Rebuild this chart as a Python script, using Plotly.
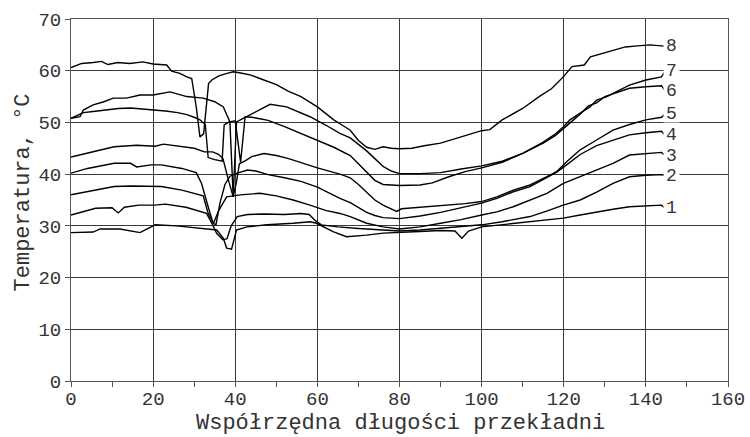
import plotly.graph_objects as go

# ---- data ----
X1 = [0, 5.4, 7.1, 11.9, 16.8, 20.5, 25.7, 33, 35.5, 37.1, 37.9, 39.1, 40.3, 42.8, 47.7, 54.1, 58.2, 59.8, 63.8, 67.1, 72, 76, 80, 85, 90, 93.5, 95.2, 96.8, 100, 105, 110, 115, 119.9, 124, 128, 132, 136, 140, 143.8]
Y1 = [28.7, 28.8, 29.4, 29.4, 28.7, 30.2, 30, 29.5, 29.2, 27.6, 25.7, 25.5, 29.2, 29.8, 30.2, 30.5, 30.8, 30.5, 28.9, 27.9, 28.2, 28.6, 28.7, 28.9, 29.1, 29, 27.6, 29, 29.8, 30.2, 30.6, 31, 31.5, 32.1, 32.7, 33.2, 33.7, 33.9, 34]

X2 = [0, 3, 6, 10, 11.5, 13, 16.5, 20.3, 23, 28, 31, 33, 34.3, 35.5, 37, 38, 39, 40.5, 43, 47, 52, 56, 58, 59.5, 61, 65, 70, 75, 80, 85, 90, 95, 100, 105, 111.8, 116, 119.9, 124, 128, 132, 136, 140, 143.8]
Y2 = [32.1, 32.8, 33.4, 33.5, 32.5, 33.6, 34, 34, 34.2, 33.6, 32.9, 32.4, 30.5, 28.5, 27.3, 27.5, 30, 31.8, 32.2, 32.3, 32.2, 32.4, 32.2, 31, 30.2, 29.8, 29.5, 29.2, 29, 29.2, 29.5, 29.8, 30.2, 30.8, 31.8, 32.9, 34, 35, 36.5, 38.2, 39.5, 39.8, 39.9]

X3 = [0, 6.5, 10.5, 14.5, 18.5, 22, 27, 31, 32.2, 33.4, 34.7, 36, 37.9, 41.2, 46, 50, 54.1, 58.2, 62, 65.5, 68, 72, 76, 80, 85, 90, 95, 100, 103.7, 107.7, 111.8, 115.9, 119.9, 124, 128, 132, 136, 140, 143.8]
Y3 = [36, 36.9, 37.6, 37.7, 37.6, 37.6, 36.9, 36, 35.8, 32.4, 30.5, 33, 35.6, 36, 36.3, 35.8, 35, 34, 33, 32.4, 31.8, 30.5, 29.8, 29.4, 29.8, 30.5, 31.2, 32.1, 32.7, 33.7, 35, 36.3, 38.2, 39.5, 40.8, 42.1, 43.7, 44, 44.2]

X4 = [0, 4, 10.5, 14.5, 16, 19.5, 22, 27, 30.5, 31.8, 33.4, 34.6, 35.3, 36.3, 37.5, 38.7, 40.5, 43, 45, 48, 52, 56, 60, 65.5, 68, 70, 72, 74, 76, 80, 85, 90, 95, 100, 103.7, 107.7, 111.8, 115.9, 118.3, 120.7, 124, 128, 132, 136, 140, 143.8]
Y4 = [40.2, 41.1, 42.1, 42.1, 41.4, 41.8, 41.8, 41.1, 40.3, 38.2, 33.7, 30.5, 30.2, 34.5, 38, 39.6, 40.2, 40.8, 40.6, 39.9, 39.3, 38.6, 37.5, 35.3, 34.5, 33.5, 32.6, 32, 31.6, 31.4, 31.9, 32.6, 33.5, 34.4, 35.3, 36.6, 37.6, 39.3, 40.4, 41.8, 43.8, 45.5, 46.6, 47.6, 48, 48.3]

X5 = [0, 5, 10.5, 16, 20.5, 22.5, 27, 30, 32.5, 34.5, 36, 37, 38.3, 39.5, 40.3, 41, 42.5, 44, 47, 50, 53, 56, 60, 65.5, 68, 70, 72, 74, 76, 78, 79.3, 80.5, 84, 88, 92, 96, 100, 103.7, 107.7, 111.8, 115.9, 118.3, 120.7, 124, 128, 132, 136, 140, 143.8]
Y5 = [43.3, 44.3, 45.3, 45.6, 45.4, 45.8, 45.3, 45, 44.3, 44.3, 43.8, 43, 39, 35.6, 38.5, 42, 42.6, 43.4, 44, 43.6, 43, 42.2, 41.2, 40, 39.3, 38, 36.5, 35, 34, 33.2, 32.8, 33.3, 33.5, 33.8, 34, 34.3, 34.7, 35.6, 36.9, 37.9, 39.5, 40.5, 42.4, 44.7, 46.6, 48.5, 49.6, 50.5, 51]

X6 = [0, 3, 5.4, 8, 11.5, 14.5, 18, 20.5, 23, 26, 28.2, 30, 31.4, 32.7, 33.4, 35, 36.8, 37.3, 38.5, 40, 41.3, 42.4, 44, 46, 48, 52, 55.8, 59.8, 64, 68, 70, 72, 74, 76, 80, 85, 88, 92, 96, 100, 105, 110, 115, 118, 120, 122, 124, 126, 128, 130, 133, 136, 140, 143.8]
Y6 = [50.8, 51.9, 52.1, 52.4, 52.7, 52.8, 52.6, 52.4, 52.2, 51.9, 51.5, 51, 50.5, 49.6, 43.2, 42.8, 42.5, 49.5, 50.1, 50.3, 42.3, 51.1, 51, 50.7, 50.4, 49.2, 47.9, 46.6, 45.2, 43.6, 42, 40.3, 38.8, 38, 37.8, 37.9, 38.3, 39.5, 40.5, 41.2, 42.3, 44, 46, 47.5, 48.9, 50.3, 51.6, 53.2, 53.8, 55, 55.8, 56.6, 56.9, 57.1]

X7 = [0, 2.2, 3, 5.4, 8, 10.3, 13.5, 16.8, 20, 24.1, 28.2, 32.2, 35, 37.1, 38.7, 39.5, 40.3, 42.8, 46, 48.5, 52.5, 55, 58.2, 62, 65.5, 68, 70, 72, 74, 76, 78, 80, 85, 90, 95, 100, 105, 110, 115, 118, 120, 121.5, 124, 126.4, 128, 130.5, 133.7, 136, 140, 143.8]
Y7 = [50.8, 51.1, 52.4, 53.4, 54, 54.7, 54.7, 55.3, 55.3, 55.9, 55, 54.7, 54, 53, 50.1, 35.6, 50.1, 51.1, 52.4, 53.5, 53, 52.2, 51.1, 49.5, 47.9, 47, 45.8, 44.5, 43, 41.5, 40.6, 40.1, 40.1, 40.3, 41, 41.6, 42.5, 44, 46.2, 47.8, 49.2, 50.5, 51.8, 53, 54.3, 55, 56.3, 57.2, 58.2, 58.8]

X8 = [0, 2.6, 5.4, 7.4, 9, 11.4, 14.3, 17.5, 20, 23.3, 24.5, 26.5, 28.2, 29.4, 30.5, 31.4, 32.3, 33.5, 34.3, 36, 38, 39.5, 41, 43.6, 46, 50, 53, 56, 60, 64, 66, 68, 70, 72, 74, 76, 78, 80, 83, 86, 90, 95, 100, 102, 105, 110, 114, 117, 120, 122, 125, 126.5, 130, 132, 135, 138, 141, 143.8]
Y8 = [60.6, 61.4, 61.6, 61.8, 61.2, 61.6, 61.4, 61.7, 61.3, 61.1, 59.9, 59.5, 58.8, 58.5, 53, 47.2, 47.8, 57.5, 58.2, 59, 59.5, 59.8, 59.6, 59.2, 58.5, 57.3, 56, 55, 53, 50.5, 49.5, 48.5, 46.5, 45.2, 44.8, 45.3, 45, 44.9, 45, 45.5, 46, 47.2, 48.4, 48.6, 50.5, 52.7, 55, 56.5, 58.9, 60.8, 61.1, 62.7, 63.5, 64, 64.6, 64.8, 65, 64.8]

CURVE_LABELS = ["1", "2", "3", "4", "5", "6", "7", "8"]
LABEL_Y = [33.4, 39.7, 43.6, 47.5, 51.6, 56.1, 59.9, 64.7]
LABEL_X = 146.3
X_TITLE = "Współrzędna długości przekładni"
Y_TITLE = "Temperatura, °C"

FONT = "Liberation Mono, Courier New, monospace"
TXT = "#333"

series = [(X1, Y1), (X2, Y2), (X3, Y3), (X4, Y4), (X5, Y5), (X6, Y6), (X7, Y7), (X8, Y8)]

fig = go.Figure()
for (xs, ys), lab, ly in zip(series, CURVE_LABELS, LABEL_Y):
    fig.add_trace(go.Scatter(x=xs + [LABEL_X - 1.6], y=ys + [ly], mode="lines", name=lab,
                             line=dict(color="black", width=1.4),
                             hoverinfo="skip"))
    fig.add_annotation(x=LABEL_X, y=ly, text=lab, showarrow=False,
                       xref="x", yref="y", bgcolor="white", borderpad=1,
                       height=14, width=13,
                       font=dict(family=FONT, size=18, color=TXT))

axis_common = dict(
    showgrid=True, gridcolor="#3a3a3a", gridwidth=1,
    showline=True, linecolor="#555", linewidth=1, mirror=True,
    ticks="outside", ticklen=5, tickcolor="#555",
    zeroline=False, automargin=False,
    tickfont=dict(family=FONT, size=19, color=TXT),
)

fig.update_xaxes(range=[0, 160], tick0=0, dtick=20, ticklabelstandoff=-5,
                 minor=dict(dtick=10, ticks="outside", ticklen=5, tickcolor="#555", showgrid=False),
                 **axis_common)
fig.update_yaxes(range=[0, 70], tick0=0, dtick=10, **axis_common)

# axis titles placed as annotations (paper coords relative to plot area)
fig.add_annotation(xref="paper", yref="paper", x=0.502, y=-0.118, text=X_TITLE,
                   showarrow=False, xanchor="center", yanchor="middle",
                   font=dict(family=FONT, size=22, color=TXT))
fig.add_annotation(xref="paper", yref="paper", x=-0.072, y=0.52, text=Y_TITLE,
                   showarrow=False, xanchor="center", yanchor="middle", textangle=-90,
                   font=dict(family=FONT, size=22, color=TXT))

fig.update_layout(width=750, height=437,
                  margin=dict(l=71, r=22, t=19, b=56),
                  plot_bgcolor="white", paper_bgcolor="white",
                  showlegend=False)

fig.write_html("out.html", config={"displayModeBar": False})

# remove the browser's default page margin so the figure fills the window exactly
with open("out.html", "r", encoding="utf-8") as f:
    html = f.read()
html = html.replace("<body>", '<body style="margin:0;padding:0;overflow:hidden">', 1)
with open("out.html", "w", encoding="utf-8") as f:
    f.write(html)
